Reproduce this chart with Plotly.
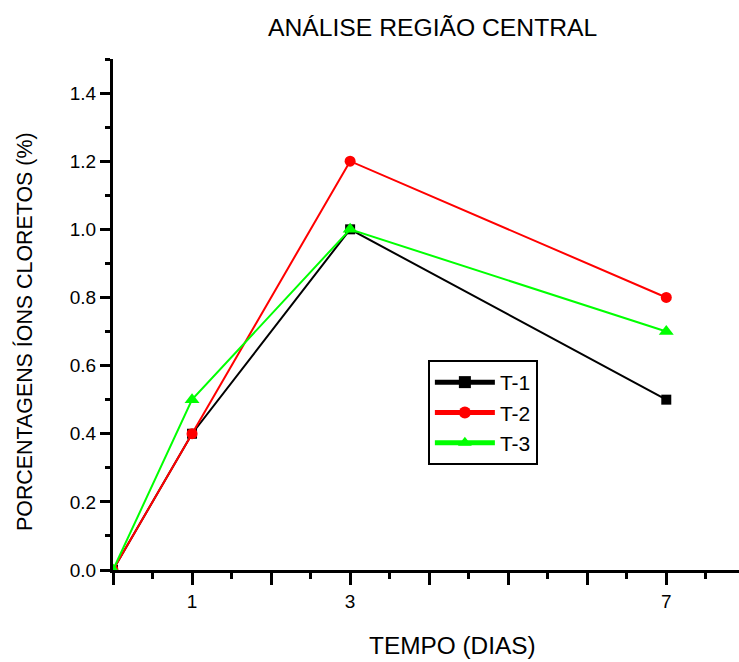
import plotly.graph_objects as go

# Dias de exposição e porcentagens de íons cloretos por traço
dias = [0, 1, 3, 7]
t1 = [0.0, 0.4, 1.0, 0.5]
t2 = [0.0, 0.4, 1.2, 0.8]
t3 = [0.0, 0.5, 1.0, 0.7]
series_names = ["T-1", "T-2", "T-3"]
x_tick_vals = [0, 1, 2, 3, 4, 5, 6, 7]
x_tick_text = ["", "1", "", "3", "", "", "", "7"]
y_tick_vals = [0.0, 0.2, 0.4, 0.6, 0.8, 1.0, 1.2, 1.4]

FONT = "Liberation Sans, Arial, sans-serif"

styles = [
    dict(color="#000000", symbol="square", size=10),
    dict(color="#FF0000", symbol="circle", size=11),
    dict(color="#00FF00", symbol="triangle-up", size=13),
]

fig = go.Figure()
for name, vals, st in zip(series_names, [t1, t2, t3], styles):
    fig.add_trace(go.Scatter(
        x=dias, y=vals, name=name, mode="lines+markers",
        line=dict(color=st["color"], width=2),
        marker=dict(color=st["color"], symbol=st["symbol"], size=st["size"],
                    line=dict(width=0)),
        cliponaxis=True,
    ))

axis_common = dict(
    showline=True, linecolor="black", linewidth=3, mirror=False,
    showgrid=False, zeroline=False, ticks="outside", tickcolor="black",
    tickwidth=3, tickfont=dict(family=FONT, size=19, color="black"),
)

fig.update_layout(
    width=739, height=662,
    margin=dict(l=113, r=0, t=59, b=92),
    paper_bgcolor="white", plot_bgcolor="white",
    font=dict(family=FONT, color="black"),
    showlegend=True,
    legend=dict(
        x=0.503, y=0.411, xanchor="left", yanchor="top",
        bordercolor="black", borderwidth=2, bgcolor="white",
        font=dict(family=FONT, size=21, color="black"),
        tracegroupgap=0, itemsizing="constant", itemwidth=60,
    ),
    xaxis=dict(
        range=[0, 7.92], tickmode="array", tickvals=x_tick_vals,
        ticktext=x_tick_text, ticklen=12,
        minor=dict(ticks="outside", dtick=0.5, tick0=0, ticklen=6,
                   tickwidth=3, tickcolor="black", showgrid=False),
        **axis_common,
    ),
    yaxis=dict(
        range=[0, 1.5], tickmode="array", tickvals=y_tick_vals,
        tickformat=".1f", ticklen=10,
        minor=dict(ticks="outside", dtick=0.1, tick0=0, ticklen=5,
                   tickwidth=3, tickcolor="black", showgrid=False),
        **axis_common,
    ),
    annotations=[
        dict(text="ANÁLISE REGIÃO CENTRAL", x=432, y=28, showarrow=False,
             font=dict(family=FONT, size=24.7)),
        dict(text="TEMPO (DIAS)", x=452, y=645, showarrow=False,
             font=dict(family=FONT, size=24.4)),
        dict(text="PORCENTAGENS ÍONS CLORETOS (%)", x=24, y=332, textangle=-90,
             showarrow=False, font=dict(family=FONT, size=21.4)),
    ],
)

# Posicionamento dos títulos em pixels da página
W, H = 739, 662
pl, pr, pt, pb = 113, 0, 59, 92
pw, ph = W - pl - pr, H - pt - pb
new_ann = []
for a in fig.layout.annotations:
    px, py = a.x, a.y
    a.update(xref="paper", yref="paper",
             x=(px - pl) / pw, y=(H - pb - py) / ph,
             xanchor="center", yanchor="middle")
    new_ann.append(a)
fig.layout.annotations = new_ann

fig.write_html("out.html")
